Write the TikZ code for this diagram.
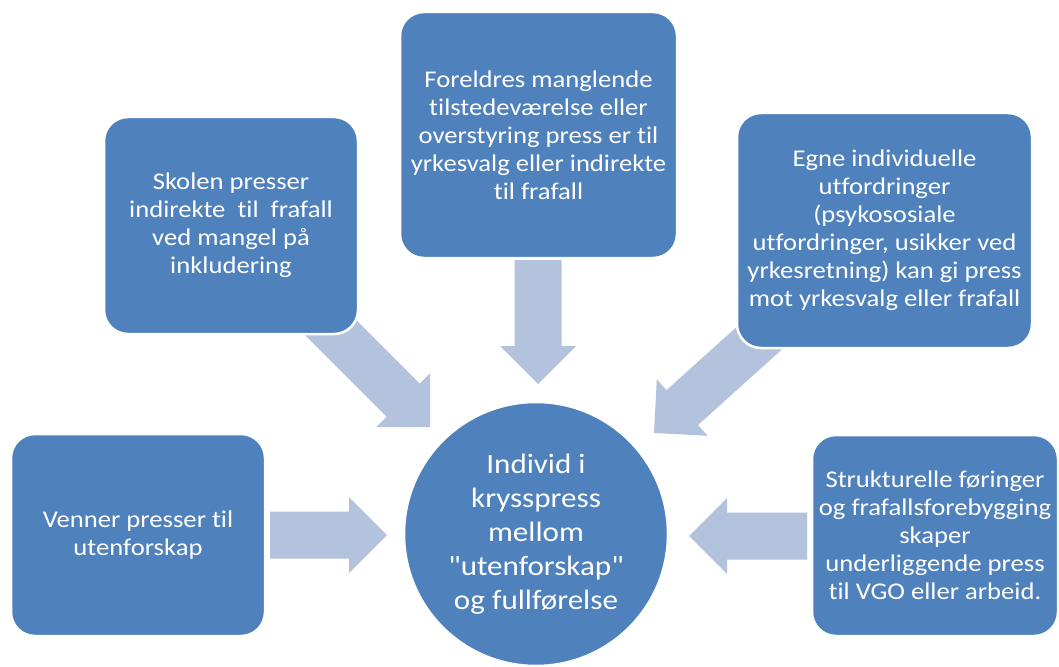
\documentclass[tikz,border=0pt]{standalone}
\usepackage{fontspec}
\newfontfamily\carl{Carlito}[Ligatures=NoCommon,FakeStretch=1.11]
\usetikzlibrary{calc,backgrounds}
\definecolor{boxblue}{HTML}{4F81BD}
\definecolor{arrowblue}{HTML}{B3C2DD}
\begin{document}
\begin{tikzpicture}[x=1pt,y=-1pt,
  box/.style={rectangle,rounded corners=24pt,fill=boxblue,draw=white,line width=2.5pt,
    text=white,align=center,font=\carl\fontsize{24}{28}\selectfont,inner sep=0pt},
  hub/.style={circle,fill=boxblue,draw=white,line width=2.5pt,text=white,align=center,
    font=\carl\fontsize{28}{34}\selectfont,minimum size=264pt,inner sep=0pt},
  pics/blockarr/.style={code={\fill[arrowblue] (0,0) -- (-38,38) -- (-38,23.5) -- (-#1,23.5)
    -- (-#1,-23.5) -- (-38,-23.5) -- (-38,-38) -- cycle;}}]
\useasboundingbox (0,0) rectangle (1059,666);

\node[hub] (circ) at (536,534) {Individ i\\krysspress\\mellom\\"utenforskap"\\og fullførelse};

\node[box,minimum width=254pt,minimum height=217pt] (skolen) at (231,225.5)
  {Skolen presser\\indirekte~ til~ frafall\\ved mangel på\\inkludering};
\node[box,minimum width=277pt,minimum height=246pt] (foreldre) at (538.5,135)
  {Foreldres manglende\\tilstedeværelse eller\\overstyring press er til\\yrkesvalg eller indirekte\\til frafall};
\node[box,minimum width=295pt,minimum height=235pt] (egne) at (884.5,230.5)
  {Egne individuelle\\utfordringer\\(psykososiale\\utfordringer, usikker ved\\yrkesretning) kan gi press\\mot yrkesvalg eller frafall};
\node[box,minimum width=254pt,minimum height=202pt] (venner) at (138,535)
  {Venner presser til\\utenforskap};
\node[box,minimum width=246pt,minimum height=201pt] (struktur) at (935,535.5)
  {Strukturelle føringer\\og frafallsforebygging\\skaper\\underliggende press\\til VGO eller arbeid.};

\coordinate (tipT)  at ($(circ.center)+(2,-150)$);
\coordinate (tipL)  at ($(circ.center)+(-149,1)$);
\coordinate (tipR)  at ($(circ.center)+(153,2)$);
\coordinate (tipDL) at ($(circ.center)+(-106,-107)$);
\coordinate (tipDR) at ($(circ.center)+(118,-101)$);

\begin{scope}[on background layer]
  \pic[rotate=-90] at (tipT) {blockarr=124};
  \pic[rotate=0] at (tipL) {blockarr=117};
  \pic[rotate=180] at (tipR) {blockarr=118};
  \pic[rotate=-45] at (tipDL) {blockarr=165};
  \pic[rotate=222] at (tipDR) {blockarr=165};
\end{scope}
\end{tikzpicture}
\end{document}
